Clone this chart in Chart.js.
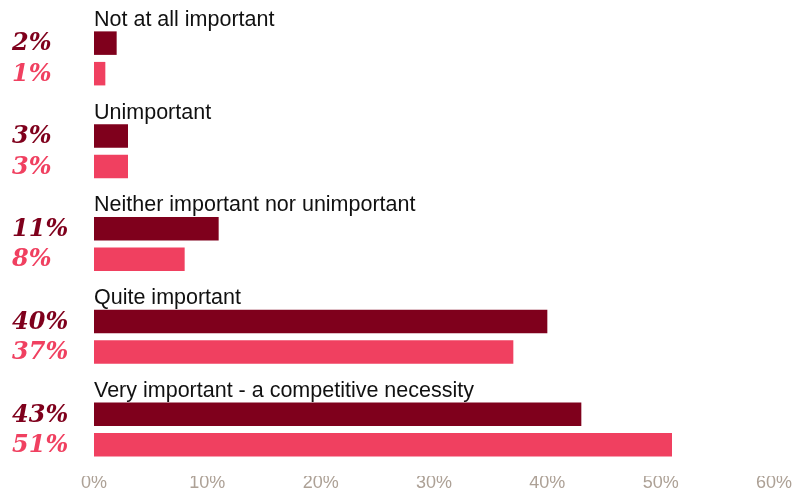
<!DOCTYPE html>
<html>
<head>
<meta charset="utf-8">
<script src="https://cdn.jsdelivr.net/npm/chart.js@4.4.1/dist/chart.umd.min.js"></script>
<style>
  html, body { margin: 0; padding: 0; background: #fff; }
  #wrap { width: 810px; height: 489px; }
</style>
</head>
<body>
<div id="wrap"><canvas id="chart"></canvas></div>
<script>
const categories = [
    "Not at all important",
    "Unimportant",
    "Neither important nor unimportant",
    "Quite important",
    "Very important - a competitive necessity"
];
const firstSeries = [2, 3, 11, 40, 43];
const secondSeries = [1, 3, 8, 37, 51];
const xTicks = [0, 10, 20, 30, 40, 50, 60];

const darkRed = "#7f001c";
const pink = "#f04060";

// Draw the category names above each group and the values on the left
const labelsPlugin = {
    id: "labels",
    afterDatasetsDraw(chart) {
        const ctx = chart.ctx;
        ctx.save();
        chart.data.datasets.forEach((ds, di) => {
            const meta = chart.getDatasetMeta(di);
            meta.data.forEach((bar, i) => {
                ctx.font = 'italic bold 24px "DejaVu Serif", Georgia, serif';
                ctx.fillStyle = ds.backgroundColor;
                ctx.textAlign = "left";
                ctx.textBaseline = "middle";
                ctx.fillText(ds.data[i] + "%", 12, bar.y + 1);

                if (di === 0) {
                    ctx.font = '21.5px "Liberation Sans", Arial, sans-serif';
                    ctx.fillStyle = "#111";
                    ctx.textBaseline = "alphabetic";
                    ctx.fillText(chart.data.labels[i], chart.chartArea.left, bar.y - bar.height / 2 - 5.5);
                }
            });
        });
        ctx.restore();
    }
};

new Chart(document.getElementById("chart"), {
    type: "bar",
    data: {
        labels: categories,
        datasets: [
            { data: firstSeries, backgroundColor: darkRed, categoryPercentage: 0.658, barPercentage: 0.77 },
            { data: secondSeries, backgroundColor: pink, categoryPercentage: 0.658, barPercentage: 0.77 }
        ]
    },
    options: {
        indexAxis: "y",
        responsive: true,
        maintainAspectRatio: false,
        animation: false,
        layout: { padding: { left: 94, right: 36, top: 12, bottom: 0 } },
        plugins: {
            legend: { display: false },
            tooltip: { enabled: false }
        },
        scales: {
            y: { display: false },
            x: {
                min: 0,
                max: 60,
                afterFit(scale) { scale.height = 13; },
                afterBuildTicks(scale) { scale.ticks = xTicks.map(v => ({ value: v })); },
                grid: { display: false, drawTicks: false },
                border: { display: false },
                ticks: {
                    padding: -4,
                    color: "#ada196",
                    font: { family: '"Liberation Sans", Arial, sans-serif', size: 18 },
                    callback: v => v + "%"
                }
            }
        }
    },
    plugins: [labelsPlugin]
});
</script>
</body>
</html>
